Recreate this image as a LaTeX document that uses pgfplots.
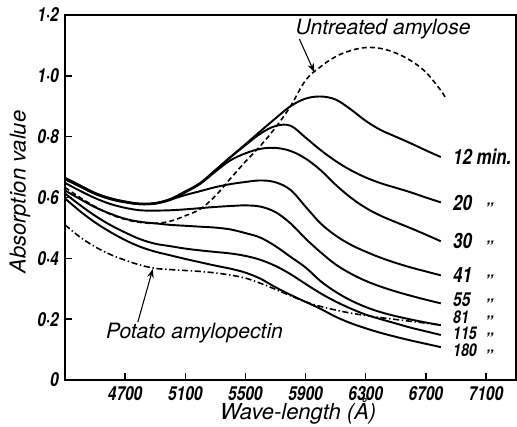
\documentclass[border=0pt]{standalone}
\usepackage{fontspec}
\setmainfont{TeX Gyre Heros}
\usepackage{graphicx}
\usepackage{pgfplots}
\pgfplotsset{compat=1.18}
\usetikzlibrary{calc,arrows.meta}

\newcommand{\cond}[1]{\scalebox{0.8}[1]{#1}}

\pgfplotstableread{
x     m12    m20    m30    m41    m55    m81    m115   m180
4300  0.665  0.663  0.661  0.660  0.648  0.623  0.613  0.597
4400  0.640  0.638  0.636  0.636  0.622  0.595  0.575  0.555
4500  0.615  0.614  0.612  0.612  0.598  0.568  0.540  0.518
4600  0.598  0.597  0.595  0.595  0.579  0.547  0.510  0.487
4700  0.587  0.586  0.585  0.584  0.566  0.530  0.485  0.460
4800  0.580  0.579  0.578  0.578  0.558  0.520  0.463  0.438
4900  0.582  0.581  0.580  0.580  0.557  0.515  0.448  0.422
5000  0.595  0.594  0.592  0.593  0.558  0.510  0.440  0.410
5100  0.620  0.619  0.617  0.608  0.561  0.507  0.432  0.398
5200  0.648  0.647  0.645  0.621  0.565  0.504  0.426  0.387
5300  0.690  0.689  0.685  0.634  0.569  0.501  0.421  0.376
5400  0.733  0.732  0.722  0.644  0.572  0.495  0.416  0.366
5500  0.775  0.772  0.745  0.651  0.574  0.483  0.408  0.353
5600  0.818  0.810  0.760  0.656  0.570  0.468  0.395  0.333
5700  0.860  0.835  0.763  0.650  0.552  0.440  0.375  0.305
5800  0.900  0.836  0.753  0.625  0.515  0.405  0.348  0.280
5900  0.925  0.797  0.728  0.570  0.465  0.370  0.316  0.257
6000  0.932  0.756  0.690  0.515  0.420  0.325  0.285  0.234
6100  0.922  0.720  0.642  0.475  0.380  0.290  0.258  0.208
6200  0.890  0.690  0.600  0.445  0.350  0.262  0.235  0.187
6300  0.852  0.666  0.566  0.422  0.326  0.240  0.215  0.170
6400  0.822  0.647  0.540  0.402  0.307  0.223  0.200  0.155
6500  0.800  0.632  0.519  0.385  0.291  0.210  0.186  0.142
6600  0.778  0.617  0.499  0.370  0.277  0.199  0.172  0.130
6700  0.755  0.600  0.478  0.357  0.264  0.189  0.160  0.119
6800  0.733  0.584  0.456  0.344  0.252  0.180  0.148  0.108
}\curves

\pgfplotstableread{
x     y
4300  0.633
4400  0.600
4500  0.570
4600  0.545
4700  0.528
4800  0.518
4900  0.515
5000  0.522
5100  0.540
5200  0.562
5300  0.605
5400  0.662
5500  0.718
5600  0.770
5700  0.830
5800  0.900
5900  0.985
6000  1.030
6100  1.063
6200  1.083
6300  1.093
6400  1.090
6500  1.075
6600  1.050
6700  1.012
6800  0.952
6830  0.928
}\amylose

\pgfplotstableread{
x     y
4300  0.510
4400  0.470
4500  0.438
4600  0.413
4700  0.394
4800  0.378
4900  0.367
5000  0.363
5100  0.360
5200  0.357
5300  0.352
5400  0.345
5500  0.335
5600  0.318
5700  0.298
5800  0.277
5900  0.257
6000  0.242
6100  0.230
6200  0.220
6300  0.212
6400  0.205
6500  0.199
6600  0.193
6700  0.187
6800  0.181
}\amylopectin

\begin{document}
\begin{tikzpicture}
\begin{axis}[
    scale only axis,
    width=9.02cm,
    height=7.3cm,
    xmin=4300, xmax=7300,
    ymin=0, ymax=1.2,
    xtick={4700,5100,5500,5900,6300,6700,7100},
    xticklabels={\cond{4700},\cond{5100},\cond{5500},\cond{5900},\cond{6300},\cond{6700},\cond{7100}},
    ytick={0,0.2,0.4,0.6,0.8,1.0,1.2},
    yticklabels={\cond{0},\cond{0·2},\cond{0·4},\cond{0·6},\cond{0·8},\cond{1·0},\cond{1·2}},
    tick label style={font=\bfseries\itshape\fontsize{11}{13}\selectfont},
    tick align=inside,
    xtick pos=bottom,
    ytick pos=left,
    major tick length=4pt,
    axis line style={line width=1pt},
    every tick/.style={black, line width=0.8pt},
    xlabel={Wave-length (Å)},
    ylabel={Absorption value},
    label style={font=\itshape\fontsize{12.5}{14}\selectfont},
    xlabel style={at={(axis description cs:0.517,0)}, anchor=center, yshift=-0.62cm},
    ylabel style={at={(axis description cs:-0.1,0.515)}, anchor=center},
    every axis plot/.append style={black, smooth, tension=0.6},
]
\addplot[line width=1.1pt] table[x=x, y=m12] {\curves};
\addplot[line width=1.1pt] table[x=x, y=m20] {\curves};
\addplot[line width=1.1pt] table[x=x, y=m30] {\curves};
\addplot[line width=1.1pt] table[x=x, y=m41] {\curves};
\addplot[line width=1.1pt] table[x=x, y=m55] {\curves};
\addplot[line width=1.1pt] table[x=x, y=m81] {\curves};
\addplot[line width=1.1pt] table[x=x, y=m115] {\curves};
\addplot[line width=1.1pt] table[x=x, y=m180] {\curves};
\addplot[line width=0.9pt, dash pattern=on 2.8pt off 1.8pt] table {\amylose};
\addplot[line width=0.9pt, dash pattern=on 3.5pt off 1.5pt on 0.8pt off 1.5pt] table {\amylopectin};

% curve labels
\node[font=\bfseries\itshape\fontsize{12}{14}\selectfont, anchor=west, inner sep=0pt] at (axis cs:6880,0.733) {\cond{12 min.}};
\node[font=\bfseries\itshape\fontsize{12}{14}\selectfont, anchor=west, inner sep=0pt] at (axis cs:6880,0.582) {\cond{20}};
\node[font=\bfseries\itshape\fontsize{12}{14}\selectfont, anchor=west, inner sep=0pt] at (axis cs:6880,0.456) {\cond{30}};
\node[font=\bfseries\itshape\fontsize{12}{14}\selectfont, anchor=west, inner sep=0pt] at (axis cs:6880,0.344) {\cond{41}};
\node[font=\bfseries\itshape\fontsize{11}{13}\selectfont, anchor=west, inner sep=0pt] at (axis cs:6880,0.264) {\cond{55}};
\node[font=\bfseries\itshape\fontsize{10}{12}\selectfont, anchor=west, inner sep=0pt] at (axis cs:6880,0.207) {\cond{81}};
\node[font=\bfseries\itshape\fontsize{10}{12}\selectfont, anchor=west, inner sep=0pt] at (axis cs:6880,0.152) {\cond{115}};
\node[font=\bfseries\itshape\fontsize{10}{12}\selectfont, anchor=west, inner sep=0pt] at (axis cs:6880,0.097) {\cond{180}};
\node[font=\bfseries\itshape\small, inner sep=0pt] at (axis cs:7120,0.564) {”};
\node[font=\bfseries\itshape\small, inner sep=0pt] at (axis cs:7120,0.438) {”};
\node[font=\bfseries\itshape\small, inner sep=0pt] at (axis cs:7120,0.326) {”};
\node[font=\bfseries\itshape\small, inner sep=0pt] at (axis cs:7120,0.248) {”};
\node[font=\bfseries\itshape\small, inner sep=0pt] at (axis cs:7120,0.191) {”};
\node[font=\bfseries\itshape\small, inner sep=0pt] at (axis cs:7120,0.136) {”};
\node[font=\bfseries\itshape\small, inner sep=0pt] at (axis cs:7120,0.081) {”};

% annotations
\node[font=\itshape\fontsize{12}{14}\selectfont, anchor=center] at (axis cs:6416,1.154) {Untreated amylose};
\draw[-{Stealth[length=5pt]}, line width=0.6pt] (axis cs:5859,1.121) -- (axis cs:5958,1.012);
\node[font=\itshape\fontsize{12}{14}\selectfont, anchor=center] at (axis cs:5162,0.154) {Potato amylopectin};
\draw[-{Stealth[length=5pt]}, line width=0.6pt] (axis cs:4784,0.19) -- (axis cs:4884,0.365);
\end{axis}
\pgfresetboundingbox
\path[use as bounding box] ($(current axis.south west)+(-1.3cm,-0.92cm)$) rectangle ($(current axis.north east)+(0.02cm,0.3cm)$);
\end{tikzpicture}
\end{document}
